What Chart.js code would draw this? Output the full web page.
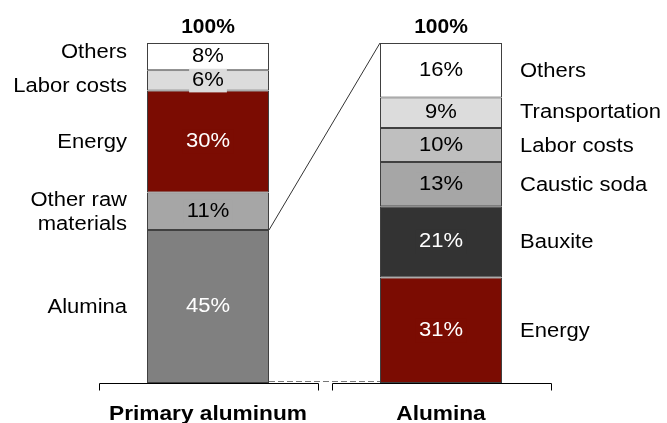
<!DOCTYPE html>
<html>
<head>
<meta charset="utf-8">
<script src="https://cdn.jsdelivr.net/npm/chart.js@4"></script>
<style>
  html, body { margin: 0; padding: 0; background: #fff; }
  #wrap { width: 667px; height: 423px; }
</style>
</head>
<body>
<div id="wrap"><canvas id="cost"></canvas></div>
<script>
const categories = ["Primary aluminum", "Alumina"];
const totals = ["100%", "100%"];

// stacks listed bottom -> top
const primaryLabels = ["Alumina", ["Other raw", "materials"], "Energy", "Labor costs", "Others"];
const primaryValues = [45, 11, 30, 6, 8];
const primaryColors = ["#808080", "#a6a6a6", "#7b0c02", "#dcdcdc", "#ffffff"];

const aluminaLabels = ["Energy", "Bauxite", "Caustic soda", "Labor costs", "Transportation", "Others"];
const aluminaValues = [31, 21, 13, 10, 9, 16];
const aluminaColors = ["#7b0c02", "#333333", "#a6a6a6", "#bfbfbf", "#dcdcdc", "#ffffff"];

const darkFills = ["#808080", "#7b0c02", "#333333"];
const FONT = "'Liberation Sans', Arial, sans-serif";

const datasets = [];
for (let i = 0; i < aluminaValues.length; i++) {
  datasets.push({
    label: "level " + i,
    data: [primaryValues[i] ?? null, aluminaValues[i]],
    backgroundColor: [primaryColors[i] || "#fff", aluminaColors[i]],
    borderColor: "#404040",
    borderWidth: 1,
    borderSkipped: false,
  });
}

function drawText(ctx, text, x, y, align, font, color, sx) {
  ctx.save();
  ctx.font = font;
  ctx.fillStyle = color;
  ctx.textAlign = align;
  ctx.textBaseline = "middle";
  ctx.translate(x, y);
  ctx.scale(sx, 1);
  ctx.fillText(text, 0, 0);
  ctx.restore();
}

// keep side labels from overlapping (centers ordered bottom -> top)
function spread(centers, gap) {
  const c = centers.slice();
  for (let i = 1; i < c.length; i++) {
    const d = c[i - 1] - c[i];
    if (d < gap) {
      c[i - 1] += (gap - d) / 2;
      c[i] -= (gap - d) / 2;
    }
  }
  return c;
}

const decorations = {
  id: "decorations",
  afterDatasetsDraw(chart) {
    const ctx = chart.ctx;
    const x = chart.scales.x, y = chart.scales.y;
    const n = chart.data.datasets.length;
    const bars = [0, 1].map(b => {
      const segs = [];
      for (let i = 0; i < n; i++) {
        const el = chart.getDatasetMeta(i).data[b];
        const v = chart.data.datasets[i].data[b];
        if (v == null) continue;
        segs.push({ el, v, color: chart.data.datasets[i].backgroundColor[b] });
      }
      return segs;
    });

    // connector lines between the bars
    const l0 = bars[0][0].el, r0 = bars[1][0].el;
    const lRight = l0.x + l0.width / 2, rLeft = r0.x - r0.width / 2;
    const yBase = y.getPixelForValue(0), yTop = y.getPixelForValue(100);
    ctx.save();
    ctx.strokeStyle = "#333";
    ctx.lineWidth = 1;
    ctx.beginPath();
    ctx.moveTo(lRight, l0.y);
    ctx.lineTo(rLeft, yTop);
    ctx.stroke();
    ctx.strokeStyle = "#777";
    ctx.setLineDash([6, 3]);
    ctx.beginPath();
    ctx.moveTo(lRight, yBase - 1.5);
    ctx.lineTo(rLeft, yBase - 1.5);
    ctx.stroke();
    ctx.restore();

    // value labels inside segments
    bars.forEach(segs => {
      segs.forEach(s => {
        const cy = (s.el.y + s.el.base) / 2;
        const txt = s.v + "%";
        const font = "20px " + FONT;
        ctx.font = font;
        const w = ctx.measureText(txt).width * 1.1;
        ctx.fillStyle = s.color;
        ctx.fillRect(s.el.x - w / 2 - 3, cy - 12, w + 6, 24);
        const col = darkFills.includes(s.color) ? "#ffffff" : "#000000";
        drawText(ctx, txt, s.el.x, cy, "center", font, col, 1.1);
      });
    });

    // side labels
    const sideLabels = [primaryLabels, aluminaLabels];
    bars.forEach((segs, b) => {
      const centers = spread(segs.map(s => (s.el.y + s.el.base) / 2), 34);
      segs.forEach((s, i) => {
        const lab = sideLabels[b][i];
        const lx = b === 0 ? s.el.x - s.el.width / 2 - 20 : s.el.x + s.el.width / 2 + 18;
        const align = b === 0 ? "right" : "left";
        const lines = Array.isArray(lab) ? lab : [lab];
        lines.forEach((t, k) => {
          const ly = centers[i] + 1 + (k - (lines.length - 1) / 2) * 24;
          drawText(ctx, t, lx, ly, align, "20px " + FONT, "#000", 1.1);
        });
      });
    });

    // totals above bars
    bars.forEach((segs, b) => {
      drawText(ctx, totals[b], segs[0].el.x, yTop - 16, "center", "bold 21px " + FONT, "#000", 1);
    });

    // split category axis with end ticks and names
    const half = (x.getPixelForValue(1) - x.getPixelForValue(0)) / 2;
    ctx.save();
    ctx.strokeStyle = "#000";
    ctx.lineWidth = 1;
    categories.forEach((c, b) => {
      const cx = x.getPixelForValue(b);
      const a = Math.round(cx - half + 7) + 0.5, e = Math.round(cx + half - 7) + 0.5;
      const yy = Math.round(yBase) + 0.5;
      ctx.beginPath();
      ctx.moveTo(a, yy + 7);
      ctx.lineTo(a, yy);
      ctx.lineTo(e, yy);
      ctx.lineTo(e, yy + 7);
      ctx.stroke();
      drawText(ctx, c, cx, yBase + 31, "center", "bold 21px " + FONT, "#000", 1.08);
    });
    ctx.restore();
  }
};

new Chart(document.getElementById("cost"), {
  type: "bar",
  data: { labels: categories, datasets },
  options: {
    responsive: true,
    maintainAspectRatio: false,
    animation: false,
    layout: { padding: { left: 91.5, right: 109.5, top: 43, bottom: 40 } },
    datasets: { bar: { categoryPercentage: 1, barPercentage: 0.5236 } },
    scales: {
      x: { stacked: true, display: false },
      y: { stacked: true, display: false, min: 0, max: 100 },
    },
    plugins: {
      legend: { display: false },
      tooltip: { enabled: false },
    },
  },
  plugins: [decorations],
});
</script>
</body>
</html>
